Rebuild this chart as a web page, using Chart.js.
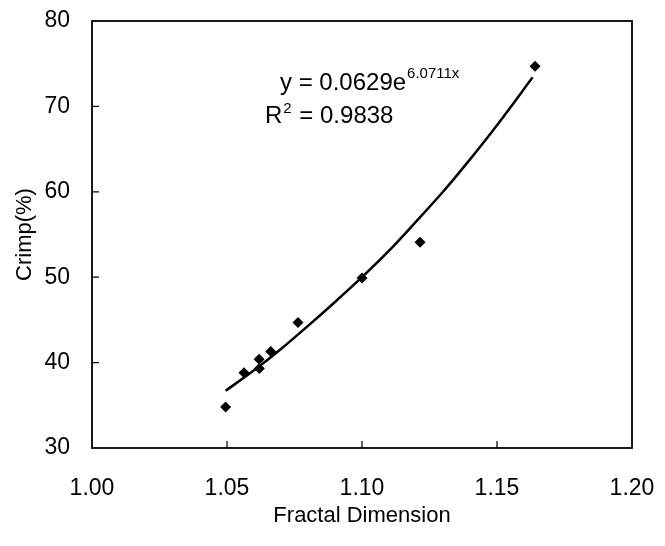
<!DOCTYPE html>
<html>
<head>
<meta charset="utf-8">
<script src="https://cdn.jsdelivr.net/npm/chart.js@4.4.1/dist/chart.umd.min.js"></script>
<style>
    html, body { margin: 0; padding: 0; background: #ffffff; }
    #wrap { width: 665px; height: 546px; }
</style>
</head>
<body>
<div id="wrap"><canvas id="chart" width="665" height="546"></canvas></div>
<script>
// measured points (Fractal Dimension vs Crimp %)
const fractalDim = [1.0495, 1.0563, 1.0619, 1.0620, 1.0662, 1.0763, 1.1000, 1.1215, 1.1641];
const crimp = [34.8, 38.8, 40.4, 39.3, 41.3, 44.7, 49.9, 54.1, 74.7];

// exponential trend line
const trendX = [1.0495, 1.06, 1.07, 1.08, 1.09, 1.10, 1.11, 1.12, 1.13, 1.14, 1.15, 1.1632];
const trendY = [36.7, 39.1, 41.6, 44.3, 47.1, 50.0, 53.1, 56.5, 60.0, 63.8, 67.8, 73.4];

const xTicks = [1.00, 1.05, 1.10, 1.15, 1.20];
const yTicks = [30, 40, 50, 60, 70, 80];

const FONT = "'Liberation Sans', Arial, sans-serif";

// frame round the plot + short inward ticks, like the old excel chart
const framePlugin = {
    id: "frame",
    afterDatasetsDraw(chart) {
        const { ctx, chartArea: a, scales } = chart;
        ctx.save();
        ctx.strokeStyle = "#000";
        ctx.lineWidth = 1.8;
        ctx.strokeRect(a.left, a.top, a.right - a.left, a.bottom - a.top);
        ctx.lineWidth = 1.2;
        ctx.beginPath();
        yTicks.slice(1, -1).forEach(v => {
            const py = scales.y.getPixelForValue(v);
            ctx.moveTo(a.left, py);
            ctx.lineTo(a.left + 7, py);
        });
        xTicks.slice(1, -1).forEach(v => {
            const px = scales.x.getPixelForValue(v);
            ctx.moveTo(px, a.bottom);
            ctx.lineTo(px, a.bottom - 7);
        });
        ctx.stroke();
        ctx.restore();
    }
};

// trendline equation text
const equationPlugin = {
    id: "equation",
    afterDraw(chart) {
        const ctx = chart.ctx;
        ctx.save();
        ctx.fillStyle = "#000";
        ctx.textBaseline = "alphabetic";
        ctx.textAlign = "left";

        ctx.font = "24px " + FONT;
        let t = "y = 0.0629e";
        ctx.fillText(t, 280, 90);
        let w = ctx.measureText(t).width;
        ctx.font = "15px " + FONT;
        ctx.fillText("6.0711x", 280 + w + 1, 78);

        ctx.font = "24px " + FONT;
        ctx.fillText("R", 265, 123);
        w = ctx.measureText("R").width;
        ctx.font = "15px " + FONT;
        ctx.fillText("2", 265 + w + 1, 113);
        ctx.font = "24px " + FONT;
        ctx.fillText("= 0.9838", 265 + w + 17, 123);
        ctx.restore();
    }
};

const ctx = document.getElementById("chart");

const graph = new Chart(ctx, {
    type: "scatter",
    data: {
        datasets: [
            {
                label: "Crimp",
                data: fractalDim.map((x, i) => ({ x: x, y: crimp[i] })),
                pointStyle: "rectRot",
                radius: 5.5,
                hoverRadius: 5.5,
                backgroundColor: "#000",
                borderColor: "#000",
                borderWidth: 0
            },
            {
                label: "Expon.",
                data: trendX.map((x, i) => ({ x: x, y: trendY[i] })),
                showLine: true,
                radius: 0,
                hoverRadius: 0,
                borderColor: "#000",
                borderWidth: 2.5,
                tension: 0.3,
                fill: false
            }
        ]
    },
    options: {
        responsive: false,
        animation: false,
        layout: {
            padding: { top: 21, right: 33, left: 0, bottom: 0 }
        },
        scales: {
            x: {
                type: "linear",
                min: 1.0,
                max: 1.2,
                afterFit(scale) {
                    scale.height = 98;
                    scale.paddingLeft = 0;
                    scale.paddingRight = 0;
                },
                afterBuildTicks(scale) { scale.ticks = xTicks.map(v => ({ value: v })); },
                grid: { display: false, drawTicks: false },
                border: { display: false },
                ticks: {
                    padding: 27,
                    color: "#000",
                    font: { family: FONT, size: 23 },
                    callback: function(value) { return Number(value).toFixed(2); }
                },
                title: {
                    display: true,
                    text: "Fractal Dimension",
                    color: "#000",
                    font: { family: FONT, size: 22 },
                    padding: { top: 0, bottom: 17 }
                }
            },
            y: {
                min: 30,
                max: 80,
                afterFit(scale) {
                    scale.width = 92;
                    scale.paddingTop = 0;
                    scale.paddingBottom = 0;
                },
                afterBuildTicks(scale) { scale.ticks = yTicks.map(v => ({ value: v })); },
                grid: { display: false, drawTicks: false },
                border: { display: false },
                ticks: {
                    padding: 22,
                    color: "#000",
                    font: { family: FONT, size: 23 }
                },
                title: {
                    display: true,
                    text: "Crimp(%)",
                    color: "#000",
                    font: { family: FONT, size: 22 },
                    padding: { top: 12, bottom: 0 }
                }
            }
        },
        plugins: {
            legend: { display: false },
            tooltip: { enabled: false }
        }
    },
    plugins: [framePlugin, equationPlugin]
});
</script>
</body>
</html>
